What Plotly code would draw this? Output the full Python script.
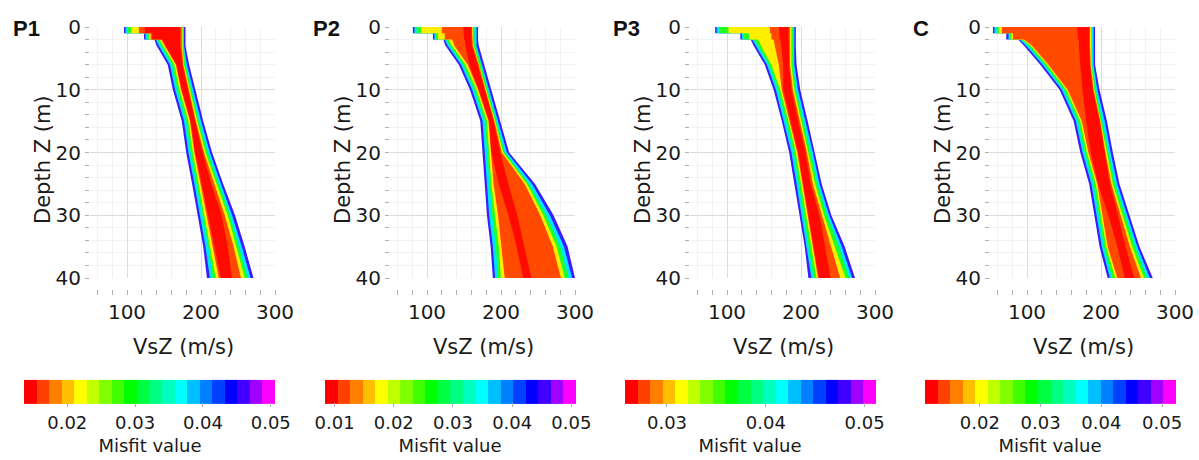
import plotly.graph_objects as go

# ---------------- data ----------------
DEPTH = [0, 1, 1, 2, 2, 3, 6, 10, 15, 20, 25, 30, 35, 40]
PANELS = ["P1", "P2", "P3", "C"]

# Misfit bands, outermost (worst) to innermost (best): left / right velocity edges (m/s)
P1_LEFT = [
    [96, 96, 123, 123, 137, 140, 155, 162, 174, 180, 188, 196, 203, 208],
    [98, 98, 125, 125, 139, 143, 158, 165, 177, 183, 191, 199, 206, 212],
    [101, 101, 127, 127, 141, 146, 161, 168, 180, 186, 194, 202, 210, 216],
    [106, 106, 130, 130, 144, 149, 164, 171, 183, 189, 197, 205, 213, 220],
    [116, 116, 132, 132, 146, 151, 166, 173, 185, 191, 199, 208, 216, 224],
    [124, 124, 134, 134, 148, 152, 167, 174, 186, 192, 201, 209, 218, 227],
]
P1_RIGHT = [
    [179, 179, 179, 179, 179, 179, 184, 192, 203, 215, 230, 246, 259, 271],
    [177, 177, 177, 177, 177, 177, 181, 189, 200, 212, 227, 242, 255, 267],
    [176, 176, 176, 176, 176, 176, 179, 187, 197, 209, 224, 239, 251, 263],
    [175, 175, 175, 175, 175, 175, 177, 185, 195, 206, 221, 236, 248, 259],
    [174, 174, 174, 174, 174, 174, 176, 183, 193, 204, 218, 232, 244, 254],
    [172, 172, 172, 172, 172, 172, 175, 182, 192, 202, 214, 228, 236, 242],
]
P2_LEFT = [
    [81, 81, 108, 108, 122, 125, 143, 158, 172, 175, 178, 181, 186, 189],
    [83, 83, 110, 110, 124, 128, 146, 161, 175, 178, 181, 184, 189, 192],
    [86, 86, 112, 112, 126, 131, 149, 164, 178, 181, 184, 188, 193, 196],
    [92, 92, 115, 115, 129, 134, 152, 167, 181, 184, 187, 192, 197, 200],
    [120, 120, 124, 124, 134, 137, 155, 169, 183, 186, 190, 196, 201, 205],
    [149, 149, 150, 150, 151, 152, 157, 170, 184, 187, 197, 210, 221, 230],
]
P2_RIGHT = [
    [169, 169, 169, 169, 169, 170, 178, 187, 199, 211, 246, 271, 290, 300],
    [167, 167, 167, 167, 167, 167, 175, 184, 196, 208, 242, 266, 285, 296],
    [164, 164, 164, 164, 164, 165, 173, 182, 194, 205, 238, 261, 280, 291],
    [162, 162, 162, 162, 162, 163, 171, 180, 192, 203, 235, 257, 275, 286],
    [161, 161, 161, 161, 161, 162, 170, 179, 191, 201, 232, 253, 270, 281],
    [160, 160, 160, 160, 160, 161, 169, 178, 190, 199, 210, 222, 232, 241],
]
P3_LEFT = [
    [84, 84, 118, 118, 132, 136, 151, 163, 174, 184, 191, 198, 205, 210],
    [86, 86, 120, 120, 134, 139, 154, 166, 177, 187, 194, 201, 208, 214],
    [89, 89, 122, 122, 136, 142, 157, 169, 180, 190, 197, 204, 211, 217],
    [102, 102, 130, 130, 142, 146, 160, 172, 183, 193, 200, 207, 214, 221],
    [158, 158, 160, 160, 163, 165, 170, 174, 185, 195, 202, 209, 216, 223],
    [170, 170, 171, 171, 172, 173, 176, 176, 186, 196, 203, 210, 217, 224],
]
P3_RIGHT = [
    [193, 193, 193, 193, 193, 193, 194, 199, 209, 219, 228, 241, 259, 273],
    [191, 191, 191, 191, 191, 191, 191, 196, 206, 216, 225, 238, 255, 269],
    [189, 189, 189, 189, 189, 189, 189, 193, 203, 213, 222, 235, 251, 265],
    [187, 187, 187, 187, 187, 187, 187, 191, 200, 210, 219, 231, 246, 260],
    [185, 185, 185, 185, 185, 185, 185, 189, 198, 208, 216, 228, 241, 253],
    [183, 183, 183, 183, 183, 183, 184, 187, 196, 206, 213, 225, 233, 240],
]
C_LEFT = [
    [54, 54, 72, 72, 88, 96, 118, 144, 163, 172, 184, 191, 198, 209],
    [56, 56, 75, 75, 90, 99, 121, 147, 166, 175, 187, 194, 201, 212],
    [59, 59, 77, 77, 92, 102, 124, 150, 169, 178, 190, 197, 204, 215],
    [62, 62, 79, 79, 94, 105, 127, 153, 172, 181, 193, 200, 207, 219],
    [66, 66, 81, 81, 96, 107, 129, 155, 174, 183, 195, 202, 209, 222],
    [168, 168, 169, 169, 170, 170, 172, 175, 180, 186, 196, 210, 222, 232],
]
C_RIGHT = [
    [192, 192, 192, 192, 192, 192, 192, 198, 208, 216, 225, 238, 252, 270],
    [190, 190, 190, 190, 190, 190, 190, 195, 205, 213, 222, 235, 249, 266],
    [188, 188, 188, 188, 188, 188, 188, 193, 202, 210, 219, 232, 246, 262],
    [187, 187, 187, 187, 187, 187, 187, 191, 200, 208, 216, 229, 242, 258],
    [185, 185, 185, 185, 185, 185, 186, 190, 199, 206, 214, 226, 239, 254],
    [184, 184, 184, 184, 184, 184, 185, 189, 198, 205, 212, 223, 233, 245],
]

# Misfit colour bars
CB_MIN = [0.0137, 0.0083, 0.0257, 0.0109]
CB_MAX = [0.0507, 0.0507, 0.0511, 0.0522]
CB_TICKS = [
    [0.02, 0.03, 0.04, 0.05],
    [0.01, 0.02, 0.03, 0.04, 0.05],
    [0.03, 0.04, 0.05],
    [0.02, 0.03, 0.04, 0.05],
]
CB_TICKTEXT = [
    ["0.02", "0.03", "0.04", "0.05"],
    ["0.01", "0.02", "0.03", "0.04", "0.05"],
    ["0.03", "0.04", "0.05"],
    ["0.02", "0.03", "0.04", "0.05"],
]
X_TICKS = [100, 200, 300]
Y_TICKS = [0, 10, 20, 30, 40]

# ---------------- styles ----------------
BAND_COLORS = ["#3a1cff", "#00e5ff", "#22ff22", "#ffee00", "#ff4a00", "#ff0a00"]
PALETTE = ["#ff0000", "#ff4000", "#ff8000", "#ffbf00", "#ffff00", "#bfff00", "#80ff00",
           "#40ff00", "#00ff00", "#00ff40", "#00ff80", "#00ffbf", "#00ffff", "#00bfff",
           "#0080ff", "#0040ff", "#0000ff", "#4000ff", "#a000ff", "#ff00ff"]

W, H = 1199, 460
FONT = "DejaVu Sans"

n = len(PALETTE)
discrete = []
for k, c in enumerate(PALETTE):
    discrete.append([k / n, c])
    discrete.append([(k + 1) / n, c])

LEFTS = {"P1": P1_LEFT, "P2": P2_LEFT, "P3": P3_LEFT, "C": C_LEFT}
RIGHTS = {"P1": P1_RIGHT, "P2": P2_RIGHT, "P3": P3_RIGHT, "C": C_RIGHT}

fig = go.Figure()
layout = dict(
    width=W, height=H, margin=dict(l=0, r=0, t=0, b=0, autoexpand=False),
    paper_bgcolor="white", plot_bgcolor="white",
    font=dict(family=FONT, color="#1a1a1a"),
    showlegend=False,
)
annotations = []

for i, name in enumerate(PANELS):
    sfx = "" if i == 0 else str(i + 1)
    off = 300 * i
    left, right = LEFTS[name], RIGHTS[name]
    for k in range(len(BAND_COLORS)):
        xs = list(left[k]) + list(right[k])[::-1]
        ys = list(DEPTH) + list(DEPTH)[::-1]
        fig.add_trace(go.Scatter(
            x=xs, y=ys, mode="lines", fill="toself", fillcolor=BAND_COLORS[k],
            line=dict(width=0, color=BAND_COLORS[k]), hoverinfo="skip",
            xaxis="x" + sfx, yaxis="y" + sfx, showlegend=False))
    # dummy trace carrying colour axis
    fig.add_trace(go.Scatter(
        x=[None], y=[None], mode="markers", xaxis="x" + sfx, yaxis="y" + sfx,
        marker=dict(color=[CB_MIN[i]], coloraxis="coloraxis" + sfx, size=1),
        hoverinfo="skip", showlegend=False))

    x0, x1 = off + 90, off + 275
    layout["xaxis" + sfx] = dict(
        domain=[x0 / W, x1 / W], range=[50, 300], anchor="free", position=1 - 289 / H,
        showline=False, zeroline=False, automargin=False,
        tickmode="array", tickvals=X_TICKS, ticks="outside", ticklen=5, tickcolor="#b0b0b0",
        tickfont=dict(size=20, family=FONT, color="#1a1a1a"),
        showgrid=True, gridcolor="#dcdcdc", gridwidth=1,
        minor=dict(tickmode="linear", tick0=0, dtick=20, ticks="outside", ticklen=5,
                   tickcolor="#b0b0b0", showgrid=True, gridcolor="#f2f2f2"),
        fixedrange=True,
    )
    layout["yaxis" + sfx] = dict(
        domain=[1 - 278 / H, 1 - 27 / H], range=[40, 0], anchor="x" + sfx,
        showline=False, zeroline=False, automargin=False,
        tickmode="array", tickvals=Y_TICKS, ticks="outside", ticklen=4, tickcolor="#b0b0b0",
        tickfont=dict(size=20, family=FONT, color="#1a1a1a"),
        showgrid=True, gridcolor="#dcdcdc", gridwidth=1,
        minor=dict(tickmode="linear", tick0=0, dtick=2, ticks="outside", ticklen=4,
                   tickcolor="#b0b0b0", showgrid=True, gridcolor="#f2f2f2"),
        fixedrange=True,
    )
    layout["coloraxis" + sfx] = dict(
        colorscale=discrete, cmin=CB_MIN[i], cmax=CB_MAX[i],
        colorbar=dict(
            orientation="h", x=(off + 150) / W, xanchor="center",
            y=0, yanchor="bottom", len=251, lenmode="pixels",
            thickness=24, thicknessmode="pixels", outlinewidth=0,
            xpad=0, ypad=4,
            tickmode="array", tickvals=CB_TICKS[i], ticktext=CB_TICKTEXT[i],
            ticks="outside", ticklen=4, tickcolor="#b0b0b0",
            tickfont=dict(size=18, family=FONT, color="#1a1a1a"),
            title=dict(text="Misfit value", side="bottom",
                       font=dict(size=18, family=FONT, color="#1a1a1a")),
        ),
    )
    # axis titles and panel label
    annotations.append(dict(
        text="VsZ (m/s)", xref="paper", yref="paper", x=(off + 183) / W, y=1 - 347 / H,
        xanchor="center", yanchor="middle", showarrow=False,
        font=dict(size=21, family=FONT, color="#1a1a1a")))
    annotations.append(dict(
        text="Depth Z (m)", xref="paper", yref="paper", x=(off + 43) / W, y=1 - 160 / H,
        xanchor="center", yanchor="middle", textangle=-90, showarrow=False,
        font=dict(size=21, family=FONT, color="#1a1a1a")))
    annotations.append(dict(
        text="<b>" + name + "</b>", xref="paper", yref="paper", x=(off + 11) / W, y=1 - 29 / H,
        xanchor="left", yanchor="middle", showarrow=False,
        font=dict(size=22, family="Liberation Sans", color="#111111")))

layout["annotations"] = annotations
fig.update_layout(**layout)
fig.write_html("out.html", config={"displayModeBar": False},
               post_script="document.body.style.margin='0px';")
